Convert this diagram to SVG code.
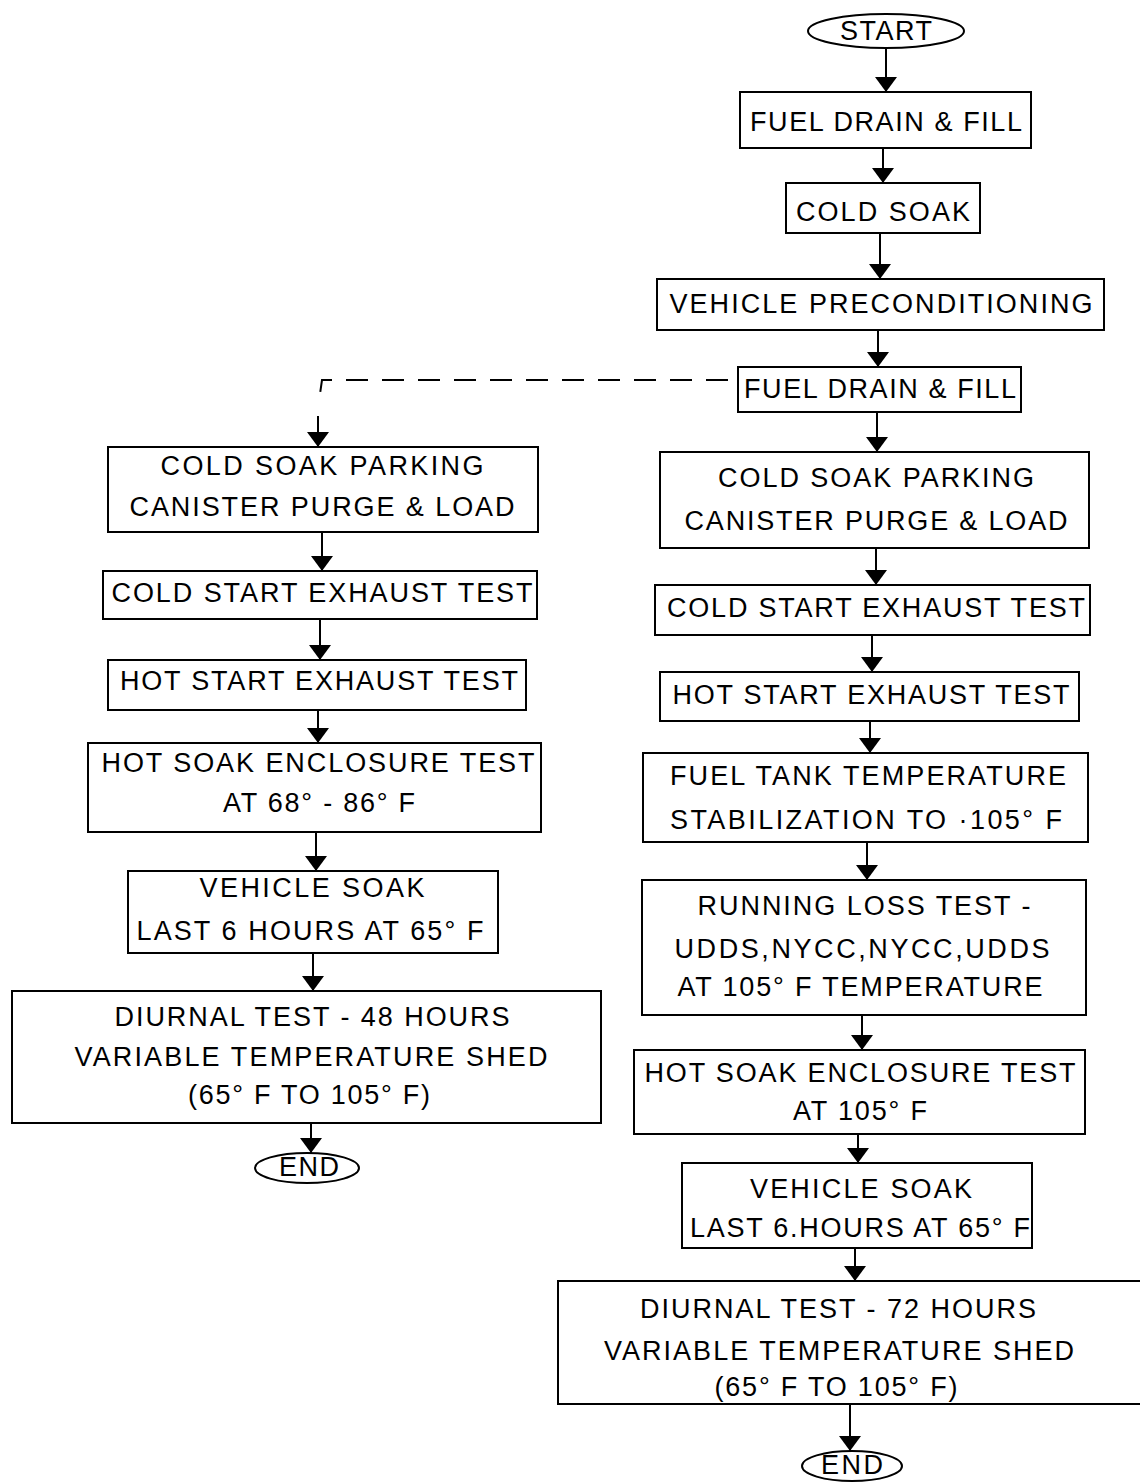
<svg xmlns="http://www.w3.org/2000/svg" width="1140" height="1482" viewBox="0 0 1140 1482">
<defs>
<marker id="ah" markerUnits="userSpaceOnUse" markerWidth="16" markerHeight="24" refX="15" refY="11" orient="auto" viewBox="0 0 16 24">
<path d="M0,0 L15,11 L0,22 Z" fill="#000"/>
</marker>
</defs>
<style>
.n rect,.n ellipse{fill:#fff;stroke:#000;stroke-width:2}
text{font-family:"Liberation Sans",Arial,sans-serif;font-size:27px;fill:#000;text-anchor:middle}
.c line,.c path{stroke:#000;stroke-width:2;fill:none}
.c .a{marker-end:url(#ah)}
.d{stroke-dasharray:22 14}
</style>
<rect width="1140" height="1482" fill="#fff"/>
<g class="c" id="connectors">
<line class="a" x1="886" y1="48" x2="886" y2="92"/>
<line class="a" x1="883" y1="148" x2="883" y2="183"/>
<line class="a" x1="880" y1="233" x2="880" y2="279"/>
<line class="a" x1="878" y1="330" x2="878" y2="367"/>
<path class="d" d="M728,380 L322,380 L320,394"/>
<line class="a" x1="318" y1="416" x2="318" y2="447"/>
<line class="a" x1="877" y1="412" x2="877" y2="452"/>
<line class="a" x1="876" y1="548" x2="876" y2="585"/>
<line class="a" x1="872" y1="635" x2="872" y2="672"/>
<line class="a" x1="870" y1="721" x2="870" y2="753"/>
<line class="a" x1="867" y1="842" x2="867" y2="880"/>
<line class="a" x1="862" y1="1015" x2="862" y2="1050"/>
<line class="a" x1="858" y1="1134" x2="858" y2="1163"/>
<line class="a" x1="855" y1="1248" x2="855" y2="1281"/>
<line class="a" x1="850" y1="1404" x2="850" y2="1451"/>
<line class="a" x1="322" y1="532" x2="322" y2="571"/>
<line class="a" x1="320" y1="619" x2="320" y2="660"/>
<line class="a" x1="318" y1="710" x2="318" y2="743"/>
<line class="a" x1="316" y1="832" x2="316" y2="871"/>
<line class="a" x1="313" y1="953" x2="313" y2="991"/>
<line class="a" x1="311" y1="1123" x2="311" y2="1153"/>
</g>
<g class="n" id="start"><ellipse cx="886" cy="31" rx="78" ry="17"/><text x="886" y="40" textLength="92" font-size="25">START</text></g>
<g class="n" id="fuel1"><rect x="740" y="92" width="291" height="56"/><text x="886" y="131" textLength="272">FUEL DRAIN &amp; FILL</text></g>
<g class="n" id="coldsoak"><rect x="786" y="183" width="194" height="50"/><text x="883" y="221" textLength="174">COLD SOAK</text></g>
<g class="n" id="precond"><rect x="657" y="279" width="447" height="51"/><text x="881" y="313" textLength="423">VEHICLE PRECONDITIONING</text></g>
<g class="n" id="fuel2"><rect x="738" y="367" width="283" height="45"/><text x="880" y="398" textLength="272">FUEL DRAIN &amp; FILL</text></g>
<g class="n" id="r_park"><rect x="660" y="452" width="429" height="96"/><text x="876" y="487" textLength="316">COLD SOAK PARKING</text><text x="876" y="530" textLength="383">CANISTER PURGE &amp; LOAD</text></g>
<g class="n" id="r_cold"><rect x="655" y="585" width="435" height="50"/><text x="876" y="617" textLength="418">COLD START EXHAUST TEST</text></g>
<g class="n" id="r_hot"><rect x="660" y="672" width="419" height="49"/><text x="871" y="704" textLength="397">HOT START EXHAUST TEST</text></g>
<g class="n" id="r_tank"><rect x="643" y="753" width="445" height="89"/><text x="868" y="785" textLength="396">FUEL TANK TEMPERATURE</text><text x="866" y="829" textLength="392">STABILIZATION TO ·105° F</text></g>
<g class="n" id="r_run"><rect x="642" y="880" width="444" height="135"/><text x="864" y="915" textLength="333">RUNNING LOSS TEST -</text><text x="862" y="958" textLength="375">UDDS,NYCC,NYCC,UDDS</text><text x="860" y="996" textLength="365">AT 105° F TEMPERATURE</text></g>
<g class="n" id="r_hotsoak"><rect x="634" y="1050" width="451" height="84"/><text x="860" y="1082" textLength="431">HOT SOAK ENCLOSURE TEST</text><text x="860" y="1120" textLength="134">AT 105° F</text></g>
<g class="n" id="r_vsoak"><rect x="682" y="1163" width="350" height="85"/><text x="861" y="1198" textLength="222">VEHICLE SOAK</text><text x="860" y="1237" textLength="340">LAST 6.HOURS AT 65° F</text></g>
<g class="n" id="r_diurnal"><rect x="558" y="1281" width="590" height="123"/><text x="838" y="1318" textLength="396">DIURNAL TEST - 72 HOURS</text><text x="839" y="1360" textLength="470">VARIABLE TEMPERATURE SHED</text><text x="836" y="1396" textLength="243">(65° F  TO 105° F)</text></g>
<g class="n" id="r_end"><ellipse cx="852" cy="1466" rx="50" ry="15"/><text x="852" y="1474" textLength="62" font-size="23">END</text></g>
<g class="n" id="l_park"><rect x="108" y="447" width="430" height="85"/><text x="322" y="475" textLength="323">COLD SOAK PARKING</text><text x="322" y="516" textLength="385">CANISTER PURGE &amp; LOAD</text></g>
<g class="n" id="l_cold"><rect x="103" y="571" width="434" height="48"/><text x="322" y="602" textLength="421">COLD START EXHAUST TEST</text></g>
<g class="n" id="l_hot"><rect x="108" y="660" width="418" height="50"/><text x="319" y="690" textLength="398">HOT START EXHAUST TEST</text></g>
<g class="n" id="l_hotsoak"><rect x="88" y="743" width="453" height="89"/><text x="318" y="772" textLength="433">HOT SOAK ENCLOSURE TEST</text><text x="319" y="812" textLength="192">AT 68° - 86° F</text></g>
<g class="n" id="l_vsoak"><rect x="128" y="871" width="370" height="82"/><text x="312" y="897" textLength="225">VEHICLE SOAK</text><text x="310" y="940" textLength="347">LAST 6 HOURS AT 65° F</text></g>
<g class="n" id="l_diurnal"><rect x="12" y="991" width="589" height="132"/><text x="312" y="1026" textLength="395">DIURNAL TEST - 48 HOURS</text><text x="311" y="1066" textLength="473">VARIABLE TEMPERATURE SHED</text><text x="309" y="1104" textLength="242">(65° F  TO 105° F)</text></g>
<g class="n" id="l_end"><ellipse cx="307" cy="1168" rx="52" ry="15"/><text x="309" y="1176" textLength="60" font-size="23">END</text></g>
</svg>
